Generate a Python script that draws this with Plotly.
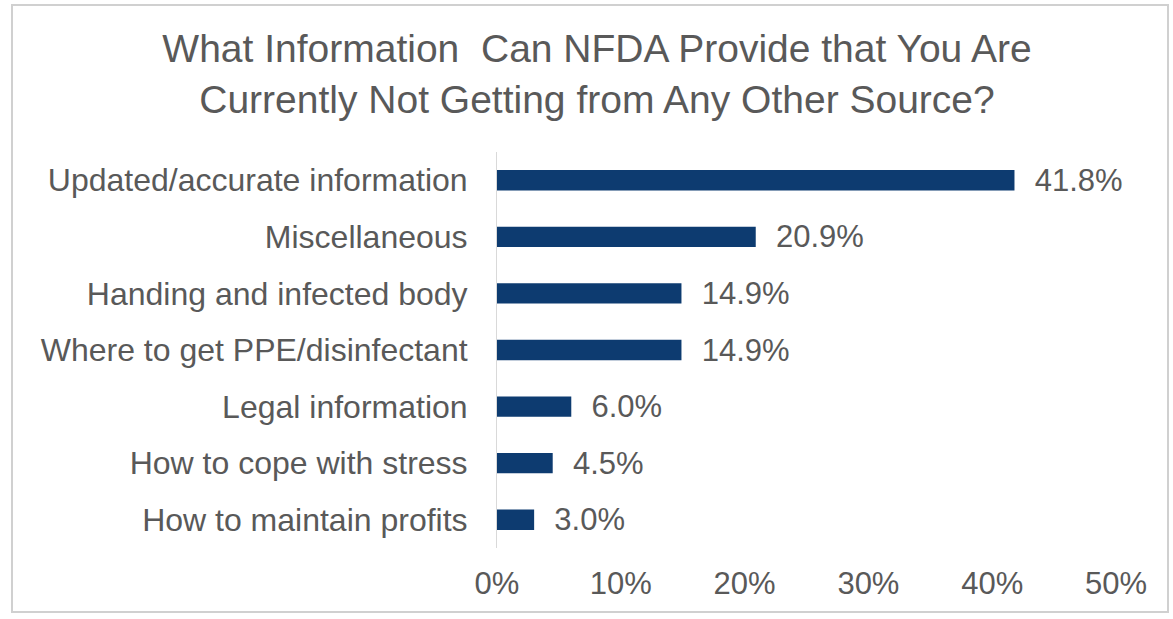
import plotly.graph_objects as go

categories = [
    "Updated/accurate information",
    "Miscellaneous",
    "Handing and infected body",
    "Where to get PPE/disinfectant",
    "Legal information",
    "How to cope with stress",
    "How to maintain profits",
]
values = [0.418, 0.209, 0.149, 0.149, 0.060, 0.045, 0.030]
x_ticks = [0, 0.1, 0.2, 0.3, 0.4, 0.5]
x_tick_labels = ["0%", "10%", "20%", "30%", "40%", "50%"]
title_text = "What Information  Can NFDA Provide that You Are<br>Currently Not Getting from Any Other Source?"

FONT = "Liberation Sans, Arial, sans-serif"
GREY = "#595959"

fig = go.Figure(
    go.Bar(
        x=values,
        y=categories,
        orientation="h",
        marker=dict(color="#0d3b70", line=dict(width=0)),
        text=["\u00a0\u00a0" + f"{v*100:.1f}%" for v in values],
        textposition="outside",
        constraintext="none",
        textfont=dict(family=FONT, size=31, color=GREY),
        cliponaxis=False,
    )
)

W, H = 1173, 619
L, R, T, B = 497, 57, 152, 71
fig.update_layout(
    width=W,
    height=H,
    paper_bgcolor="white",
    plot_bgcolor="white",
    margin=dict(l=L, r=R, t=T, b=B),
    bargap=0.64,
    showlegend=False,
    title=dict(
        text=title_text,
        font=dict(family=FONT, size=39, color=GREY),
        x=597 / W,
        xanchor="center",
        xref="container",
        y=1 - 62 / H,
        yanchor="top",
        yref="container",
    ),
    xaxis=dict(
        range=[0, 0.5],
        tickvals=x_ticks,
        ticktext=x_tick_labels,
        showgrid=False,
        zeroline=False,
        showline=False,
        ticks="outside",
        ticklen=8,
        tickcolor="rgba(0,0,0,0)",
        tickfont=dict(family=FONT, size=31, color=GREY),
    ),
    yaxis=dict(
        categoryorder="array",
        categoryarray=categories[::-1],
        showgrid=False,
        zeroline=False,
        showline=True,
        linecolor="#d9d9d9",
        linewidth=1,
        ticks="",
        ticklabelstandoff=22,
        tickfont=dict(family=FONT, size=32, color=GREY),
    ),
    shapes=[
        dict(
            type="rect",
            xref="paper",
            yref="paper",
            x0=(12 - L) / (W - L - R),
            x1=(1168 - L) / (W - L - R),
            y0=-(612 - (H - B)) / (H - T - B),
            y1=1 + (T - 5) / (H - T - B),
            line=dict(color="#d0d0d0", width=2),
            fillcolor="rgba(0,0,0,0)",
            layer="below",
        )
    ],
)

fig.write_html(
    "out.html",
    config={"displayModeBar": False},
    post_script="document.body.style.margin='0';document.body.style.overflow='hidden';",
)
